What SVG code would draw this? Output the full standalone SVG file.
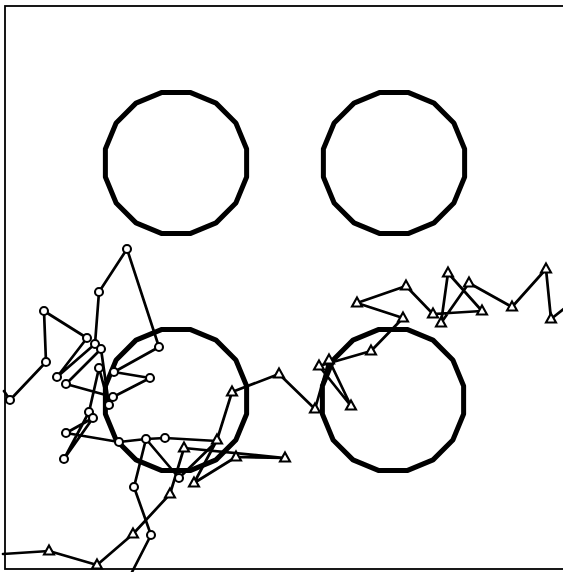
<svg xmlns="http://www.w3.org/2000/svg" xmlns:xlink="http://www.w3.org/1999/xlink" width="563" height="572" viewBox="0 0 563 572">
<style>
.frame{fill:none;stroke:#000;stroke-width:1.8}
.obs{fill:none;stroke:#000;stroke-width:5;stroke-linejoin:round}
.walk{fill:none;stroke:#000;stroke-width:2.7;stroke-linejoin:round;stroke-linecap:round}
.mk{fill:#fff;stroke:#000;stroke-width:2.1}
</style>
<defs>
<polygon id="poly" points="70.62,14.05 59.87,40 40,59.87 14.05,70.62 -14.05,70.62 -40,59.87 -59.87,40 -70.62,14.05 -70.62,-14.05 -59.87,-40 -40,-59.87 -14.05,-70.62 14.05,-70.62 40,-59.87 59.87,-40 70.62,-14.05"/>
<circle id="c" r="4" class="mk"/>
<polygon id="t" points="0,-5.5 5,3.5 -5,3.5" class="mk"/>
</defs>
<rect id="frame" class="frame" x="5" y="6" width="620" height="563"/>
<g id="obstacles">
<use id="obs1" xlink:href="#poly" class="obs" x="176" y="163"/>
<use id="obs2" xlink:href="#poly" class="obs" x="394" y="163"/>
<use id="obs3" xlink:href="#poly" class="obs" x="176" y="400"/>
<use id="obs4" xlink:href="#poly" class="obs" x="393" y="400"/>
</g>
<g id="connectors">
<polyline id="walk-circles" class="walk" points="4,391 10,400 46,362 44,311 87,338 57,377 95,344 99,292 127,249 159,347 114,372 150,378 113,397 66,384 101,349 109,405 99,368 89,412 64,459 93,418 66,433 119,442 146,439 165,438 217,441 179,478 146,439 134,487 151,535 132,572"/>
<polyline id="walk-triangles" class="walk" points="3,554 49,551 97,565 133,534 170,494 184,448 285,458 236,457 194,483 217,440 232,392 279,374 315,409 329,360 351,406 319,366 371,351 403,318 357,303 406,286 433,314 482,311 448,273 441,323 469,283 512,307 546,269 551,319 566,307"/>
</g>
<g id="circle-markers">
<use xlink:href="#c" x="10" y="400"/><use xlink:href="#c" x="46" y="362"/><use xlink:href="#c" x="44" y="311"/><use xlink:href="#c" x="87" y="338"/><use xlink:href="#c" x="57" y="377"/><use xlink:href="#c" x="95" y="344"/><use xlink:href="#c" x="99" y="292"/><use xlink:href="#c" x="127" y="249"/><use xlink:href="#c" x="159" y="347"/><use xlink:href="#c" x="114" y="372"/><use xlink:href="#c" x="150" y="378"/><use xlink:href="#c" x="113" y="397"/><use xlink:href="#c" x="66" y="384"/><use xlink:href="#c" x="101" y="349"/><use xlink:href="#c" x="109" y="405"/><use xlink:href="#c" x="99" y="368"/><use xlink:href="#c" x="89" y="412"/><use xlink:href="#c" x="64" y="459"/><use xlink:href="#c" x="93" y="418"/><use xlink:href="#c" x="66" y="433"/><use xlink:href="#c" x="119" y="442"/><use xlink:href="#c" x="146" y="439"/><use xlink:href="#c" x="165" y="438"/><use xlink:href="#c" x="179" y="478"/><use xlink:href="#c" x="134" y="487"/><use xlink:href="#c" x="151" y="535"/>
</g>
<g id="triangle-markers">
<use xlink:href="#t" x="49" y="551"/><use xlink:href="#t" x="97" y="565"/><use xlink:href="#t" x="133" y="534"/><use xlink:href="#t" x="170" y="494"/><use xlink:href="#t" x="184" y="448"/><use xlink:href="#t" x="285" y="458"/><use xlink:href="#t" x="194" y="483"/><use xlink:href="#t" x="236" y="457"/><use xlink:href="#t" x="217" y="440"/><use xlink:href="#t" x="232" y="392"/><use xlink:href="#t" x="279" y="374"/><use xlink:href="#t" x="315" y="409"/><use xlink:href="#t" x="329" y="360"/><use xlink:href="#t" x="351" y="406"/><use xlink:href="#t" x="319" y="366"/><use xlink:href="#t" x="371" y="351"/><use xlink:href="#t" x="403" y="318"/><use xlink:href="#t" x="357" y="303"/><use xlink:href="#t" x="406" y="286"/><use xlink:href="#t" x="433" y="314"/><use xlink:href="#t" x="482" y="311"/><use xlink:href="#t" x="448" y="273"/><use xlink:href="#t" x="441" y="323"/><use xlink:href="#t" x="469" y="283"/><use xlink:href="#t" x="512" y="307"/><use xlink:href="#t" x="546" y="269"/><use xlink:href="#t" x="551" y="319"/>
</g>
</svg>
